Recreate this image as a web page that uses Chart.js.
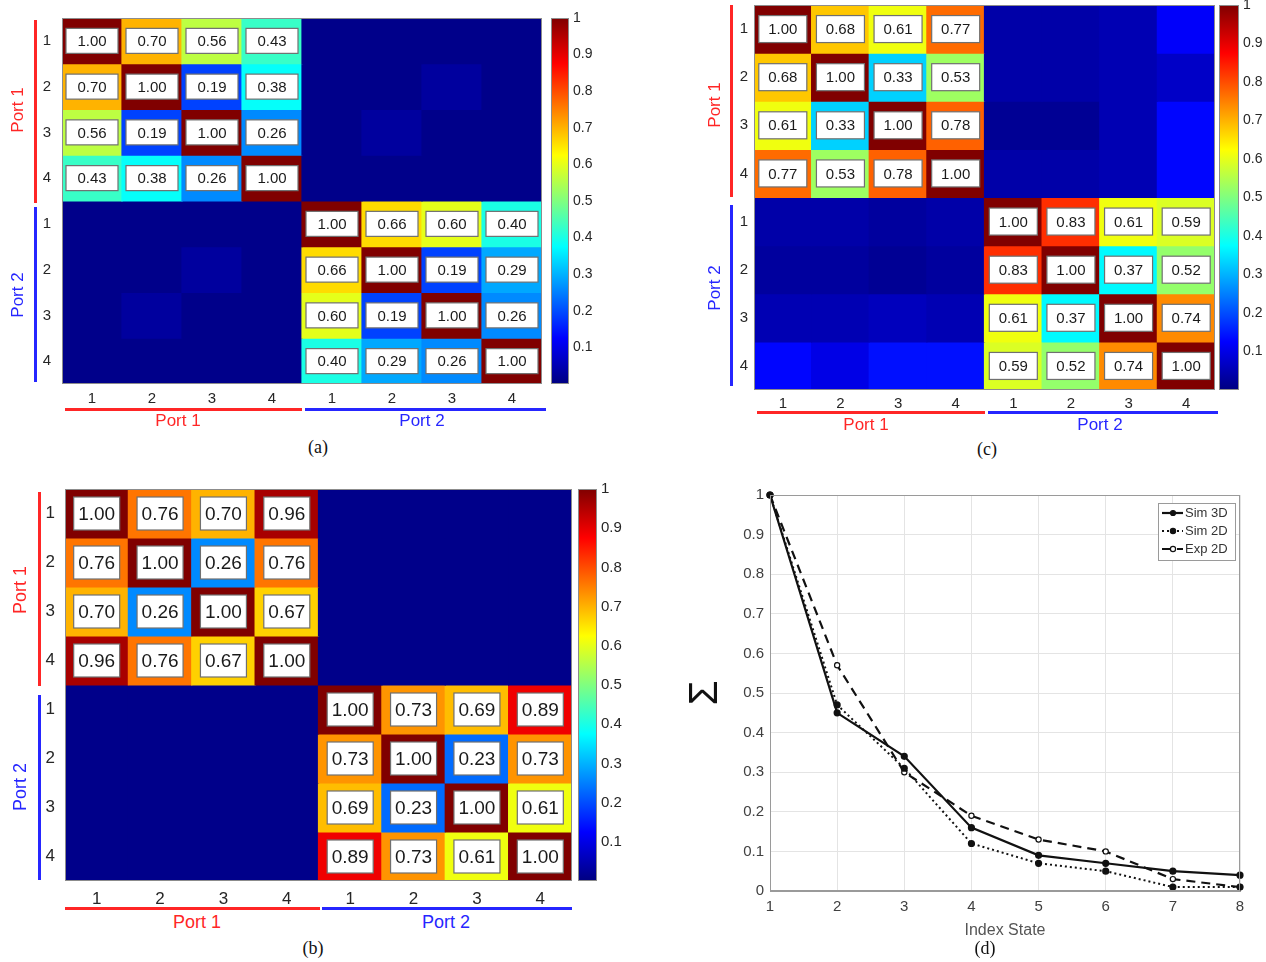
<!DOCTYPE html>
<html>
<head>
<meta charset="utf-8">
<script src="https://cdn.jsdelivr.net/npm/chart.js@4/dist/chart.umd.min.js"></script>
<style>
  body { margin: 0; background: #fff; }
  #page { position: relative; width: 1266px; height: 962px; overflow: hidden; background: #fff;
          font-family: Arial, "Liberation Sans", Helvetica, sans-serif; }
  canvas { position: absolute; }
  .cap { position: absolute; font-family: "Liberation Serif", "Times New Roman", serif; font-size: 18px; color: #111;
         transform: translate(-50%, -50%); }
  .port { position: absolute; font-size: 17px; white-space: nowrap; transform: translate(-50%, -50%); }
  .port.v { transform: translate(-50%, -50%) rotate(-90deg); }
  .bar { position: absolute; }
</style>
</head>
<body>
<div id="page">
  <canvas id="heatA" width="548" height="412" style="left:0;top:0"></canvas>
  <canvas id="barA" width="70" height="412" style="left:540px;top:0"></canvas>
  <canvas id="heatB" width="580" height="440" style="left:0;top:470px"></canvas>
  <canvas id="barB" width="66" height="440" style="left:570px;top:470px"></canvas>
  <canvas id="heatC" width="530" height="412" style="left:690px;top:0"></canvas>
  <canvas id="barC" width="56" height="412" style="left:1210px;top:0"></canvas>
  <canvas id="lineD" width="584" height="460" style="left:682px;top:480px"></canvas>
</div>
<script>
// tick labels
const portTicks = ['1', '2', '3', '4', '1', '2', '3', '4'];
const rowCenters = [0.5, 1.5, 2.5, 3.5, 4.5, 5.5, 6.5, 7.5];
const colorbarTicks = [0.1, 0.2, 0.3, 0.4, 0.5, 0.6, 0.7, 0.8, 0.9, 1];
const indexState = ['1', '2', '3', '4', '5', '6', '7', '8'];

// (a) correlation matrix
const matrixA = [
  [1.00, 0.70, 0.56, 0.43, 0.01, 0.01, 0.01, 0.01],
  [0.70, 1.00, 0.19, 0.38, 0.01, 0.01, 0.03, 0.01],
  [0.56, 0.19, 1.00, 0.26, 0.01, 0.03, 0.01, 0.01],
  [0.43, 0.38, 0.26, 1.00, 0.01, 0.01, 0.01, 0.01],
  [0.01, 0.01, 0.01, 0.01, 1.00, 0.66, 0.60, 0.40],
  [0.01, 0.01, 0.03, 0.01, 0.66, 1.00, 0.19, 0.29],
  [0.01, 0.03, 0.01, 0.01, 0.60, 0.19, 1.00, 0.26],
  [0.01, 0.01, 0.01, 0.01, 0.40, 0.29, 0.26, 1.00]
];
// (b)
const matrixB = [
  [1.00, 0.76, 0.70, 0.96, 0.01, 0.01, 0.01, 0.01],
  [0.76, 1.00, 0.26, 0.76, 0.01, 0.01, 0.01, 0.01],
  [0.70, 0.26, 1.00, 0.67, 0.01, 0.01, 0.01, 0.01],
  [0.96, 0.76, 0.67, 1.00, 0.01, 0.01, 0.01, 0.01],
  [0.01, 0.01, 0.01, 0.01, 1.00, 0.73, 0.69, 0.89],
  [0.01, 0.01, 0.01, 0.01, 0.73, 1.00, 0.23, 0.73],
  [0.01, 0.01, 0.01, 0.01, 0.69, 0.23, 1.00, 0.61],
  [0.01, 0.01, 0.01, 0.01, 0.89, 0.73, 0.61, 1.00]
];
// (c)
const matrixC = [
  [1.00, 0.68, 0.61, 0.77, 0.04, 0.04, 0.05, 0.12],
  [0.68, 1.00, 0.33, 0.53, 0.04, 0.04, 0.05, 0.07],
  [0.61, 0.33, 1.00, 0.78, 0.02, 0.02, 0.05, 0.13],
  [0.77, 0.53, 0.78, 1.00, 0.04, 0.04, 0.05, 0.13],
  [0.04, 0.04, 0.03, 0.04, 1.00, 0.83, 0.61, 0.59],
  [0.03, 0.03, 0.02, 0.03, 0.83, 1.00, 0.37, 0.52],
  [0.05, 0.05, 0.06, 0.05, 0.61, 0.37, 1.00, 0.74],
  [0.13, 0.10, 0.14, 0.14, 0.59, 0.52, 0.74, 1.00]
];

// (d) series
const sim3D = [1.00, 0.45, 0.34, 0.16, 0.09, 0.07, 0.05, 0.04];
const sim2D = [1.00, 0.47, 0.31, 0.12, 0.07, 0.05, 0.01, 0.01];
const exp2D = [1.00, 0.57, 0.30, 0.19, 0.13, 0.10, 0.03, 0.01];

Chart.defaults.font.family = 'Arial, "Liberation Sans", Helvetica, sans-serif';
Chart.defaults.color = '#262626';

// matlab jet colormap
function jet(v) {
  const c = t => Math.max(0, Math.min(1, t));
  const r = c(1.5 - Math.abs(4 * v - 3));
  const g = c(1.5 - Math.abs(4 * v - 2));
  const b = c(1.5 - Math.abs(4 * v - 1));
  return 'rgb(' + Math.round(r * 255) + ',' + Math.round(g * 255) + ',' + Math.round(b * 255) + ')';
}

// keep the chart area where the layout padding puts it
function noPad(a) {
  a.paddingTop = 0; a.paddingBottom = 0; a.paddingLeft = 0; a.paddingRight = 0;
}

function makeCellLabels(matrix, box) {
  return {
    id: 'cellLabels',
    afterDatasetsDraw(chart) {
      const { ctx, scales: { x, y }, chartArea } = chart;
      ctx.save();
      for (let r = 0; r < matrix.length; r++) {
        for (let c = 0; c < matrix[r].length; c++) {
          if ((r < 4) !== (c < 4)) continue;
          const cx = x.getPixelForValue(c);
          const cy = y.getPixelForValue(r + 0.5);
          ctx.fillStyle = '#fff';
          ctx.fillRect(cx - box.w / 2, cy - box.h / 2, box.w, box.h);
          ctx.strokeStyle = '#707070';
          ctx.lineWidth = 1.2;
          ctx.strokeRect(cx - box.w / 2, cy - box.h / 2, box.w, box.h);
          ctx.fillStyle = '#1a1a1a';
          ctx.font = box.font + 'px Arial, "Liberation Sans", sans-serif';
          ctx.textAlign = 'center';
          ctx.textBaseline = 'middle';
          ctx.fillText(matrix[r][c].toFixed(2), cx, cy + 1);
        }
      }
      ctx.strokeStyle = '#8c8c8c';
      ctx.lineWidth = 1;
      ctx.strokeRect(chartArea.left + 0.5, chartArea.top + 0.5, chartArea.width - 1, chartArea.height - 1);
      ctx.restore();
    }
  };
}

function heatmap(id, matrix, o) {
  new Chart(document.getElementById(id), {
    type: 'bar',
    data: {
      labels: portTicks,
      datasets: matrix.map((row, r) => ({
        data: row.map(() => [r, r + 1]),
        backgroundColor: row.map(jet),
        grouped: false,
        barPercentage: 1,
        categoryPercentage: 1,
        borderWidth: 0,
        inflateAmount: 0.6
      }))
    },
    options: {
      responsive: false,
      animation: false,
      layout: { padding: { top: o.top, right: o.right, left: 0, bottom: 0 } },
      plugins: { legend: { display: false }, tooltip: { enabled: false } },
      scales: {
        x: {
          grid: { display: false, drawTicks: false },
          border: { display: false },
          ticks: { padding: o.xPad, font: { size: o.tick }, maxRotation: 0, autoSkip: false },
          afterFit: a => { a.height = o.xh; noPad(a); }
        },
        y: {
          min: 0, max: 8, reverse: true,
          grid: { display: false, drawTicks: false },
          border: { display: false },
          afterBuildTicks: a => { a.ticks = rowCenters.map(v => ({ value: v })); },
          ticks: { padding: o.yPad, font: { size: o.tick }, callback: (v, i) => portTicks[i] },
          afterFit: a => { a.width = o.yw; noPad(a); }
        }
      }
    },
    plugins: [makeCellLabels(matrix, o.box)]
  });
}

function colorbar(id, o) {
  new Chart(document.getElementById(id), {
    type: 'bar',
    data: {
      labels: [''],
      datasets: [{
        data: [[0, 1]],
        backgroundColor: ctx => {
          const chart = ctx.chart;
          if (!chart.chartArea || !chart.scales.y) return jet(0.5);
          const y = chart.scales.y;
          const g = chart.ctx.createLinearGradient(0, y.getPixelForValue(0), 0, y.getPixelForValue(1));
          [0, 0.125, 0.375, 0.625, 0.875, 1].forEach(s => g.addColorStop(s, jet(s)));
          return g;
        },
        barPercentage: 1,
        categoryPercentage: 1,
        borderWidth: 0
      }]
    },
    options: {
      responsive: false,
      animation: false,
      layout: { padding: { top: o.top, bottom: o.bottom, left: o.left, right: 0 } },
      plugins: { legend: { display: false }, tooltip: { enabled: false } },
      scales: {
        x: { display: false },
        y: {
          position: 'right', min: 0, max: 1,
          grid: { display: false, drawTicks: false },
          border: { display: false },
          afterBuildTicks: a => { a.ticks = colorbarTicks.map(v => ({ value: v })); },
          ticks: { padding: 4, font: { size: o.tick }, callback: v => v === 1 ? '1' : v.toFixed(1) },
          afterFit: a => { a.width = o.yw; noPad(a); }
        }
      }
    },
    plugins: [{
      id: 'cbFrame',
      afterDraw(chart) {
        const { ctx, chartArea: a } = chart;
        ctx.save();
        ctx.strokeStyle = '#8c8c8c';
        ctx.lineWidth = 1;
        ctx.strokeRect(a.left + 0.5, a.top + 0.5, a.width - 1, a.height - 1);
        ctx.restore();
      }
    }]
  });
}

heatmap('heatA', matrixA, { top: 18, right: 6, xh: 28, yw: 62, xPad: 6, yPad: 11, tick: 15, box: { w: 52, h: 25, font: 15 } });
colorbar('barA', { top: 18, bottom: 28, left: 11, yw: 41, tick: 14 });
heatmap('heatB', matrixB, { top: 19, right: 8, xh: 29, yw: 65, xPad: 8, yPad: 10, tick: 17, box: { w: 46, h: 33, font: 19 } });
colorbar('barB', { top: 19, bottom: 29, left: 8, yw: 39, tick: 15 });
heatmap('heatC', matrixC, { top: 5, right: 5, xh: 22, yw: 64, xPad: 5, yPad: 6, tick: 15, box: { w: 48, h: 27, font: 15 } });
colorbar('barC', { top: 5, bottom: 22, left: 9, yw: 27, tick: 14 });

// legend drawn inside the plot, top right
const legendBox = {
  id: 'legendBox',
  afterDraw(chart) {
    const { ctx, chartArea: a } = chart;
    const w = 77, h = 57;
    const x0 = a.right - w - 5, y0 = a.top + 8;
    ctx.save();
    ctx.fillStyle = '#fff';
    ctx.fillRect(x0, y0, w, h);
    ctx.strokeStyle = '#9a9a9a';
    ctx.lineWidth = 1;
    ctx.strokeRect(x0 + 0.5, y0 + 0.5, w, h);
    chart.data.datasets.forEach((ds, i) => {
      const yy = y0 + 10 + i * 18;
      ctx.strokeStyle = ds.borderColor;
      ctx.lineWidth = ds.borderWidth;
      ctx.setLineDash(ds.borderDash || []);
      ctx.beginPath();
      ctx.moveTo(x0 + 4, yy);
      ctx.lineTo(x0 + 25, yy);
      ctx.stroke();
      ctx.setLineDash([]);
      ctx.beginPath();
      ctx.arc(x0 + 15, yy, ds.pointRadius, 0, Math.PI * 2);
      ctx.fillStyle = ds.pointBackgroundColor;
      ctx.fill();
      ctx.lineWidth = 1.2;
      ctx.strokeStyle = ds.borderColor;
      ctx.stroke();
      ctx.fillStyle = '#333';
      ctx.font = '13px Arial, "Liberation Sans", sans-serif';
      ctx.textAlign = 'left';
      ctx.textBaseline = 'middle';
      ctx.fillText(ds.label, x0 + 27, yy);
    });
    ctx.strokeStyle = '#9a9a9a';
    ctx.lineWidth = 1;
    ctx.strokeRect(a.left + 0.5, a.top + 0.5, a.width - 1, a.height - 1);
    ctx.restore();
  }
};

new Chart(document.getElementById('lineD'), {
  type: 'line',
  data: {
    labels: indexState,
    datasets: [
      { label: 'Sim 3D', data: sim3D, borderColor: '#111', borderWidth: 2.2, pointRadius: 2.5,
        pointBackgroundColor: '#111', pointBorderColor: '#111', tension: 0, clip: 8 },
      { label: 'Sim 2D', data: sim2D, borderColor: '#111', borderWidth: 2, borderDash: [2, 3], pointRadius: 2.6,
        pointBackgroundColor: '#111', pointBorderColor: '#111', tension: 0, clip: 8 },
      { label: 'Exp 2D', data: exp2D, borderColor: '#111', borderWidth: 2.2, borderDash: [9, 6], pointRadius: 2.6,
        pointBackgroundColor: '#fff', pointBorderColor: '#111', pointBorderWidth: 1.2, tension: 0, clip: 8 }
    ]
  },
  options: {
    responsive: false,
    animation: false,
    layout: { padding: { top: 15, right: 26, left: 0, bottom: 0 } },
    plugins: { legend: { display: false }, tooltip: { enabled: false } },
    scales: {
      x: {
        grid: { color: '#e4e4e4', drawTicks: false },
        border: { color: '#9a9a9a' },
        ticks: { color: '#404040', font: { size: 15 }, padding: 7, maxRotation: 0 },
        title: { display: true, text: 'Index State', color: '#555', font: { size: 16 }, padding: { top: 1, bottom: 0 } },
        afterFit: a => { a.height = 49; noPad(a); }
      },
      y: {
        min: 0, max: 1,
        grid: { color: '#e4e4e4', drawTicks: false },
        border: { color: '#9a9a9a' },
        ticks: { stepSize: 0.1, color: '#404040', font: { size: 15 }, padding: 6,
                 callback: v => String(Number(v.toFixed(1))) },
        title: { display: true, text: 'Σ', color: '#111', font: { size: 40 }, padding: 0 },
        afterFit: a => { a.width = 88; noPad(a); }
      }
    }
  },
  plugins: [legendBox]
});

// port brackets, labels and captions
const page = document.getElementById('page');
function bar(x1, y1, x2, y2, color) {
  const d = document.createElement('div');
  d.className = 'bar';
  d.style.left = x1 + 'px'; d.style.top = y1 + 'px';
  d.style.width = (x2 - x1) + 'px'; d.style.height = (y2 - y1) + 'px';
  d.style.background = color;
  page.appendChild(d);
}
function text(cls, str, x, y, color, size) {
  const d = document.createElement('div');
  d.className = cls;
  d.textContent = str;
  d.style.left = x + 'px'; d.style.top = y + 'px';
  if (color) d.style.color = color;
  if (size) d.style.fontSize = size + 'px';
  page.appendChild(d);
}
const RED = '#ff2626', BLUE = '#2626ff';

// (a)
bar(65, 408, 302, 411, RED); bar(305, 408, 546, 411, BLUE);
bar(34, 20, 37, 203, RED); bar(34, 207, 37, 382, BLUE);
text('port', 'Port 1', 178, 421, RED, 17); text('port', 'Port 2', 422, 421, BLUE, 17);
text('port v', 'Port 1', 18, 110, RED, 17); text('port v', 'Port 2', 18, 295, BLUE, 17);
text('cap', '(a)', 318, 447);
// (b)
bar(65, 907, 320, 910, RED); bar(322, 907, 572, 910, BLUE);
bar(38, 492, 41, 686, RED); bar(38, 695, 41, 880, BLUE);
text('port', 'Port 1', 197, 922, RED, 18); text('port', 'Port 2', 446, 922, BLUE, 18);
text('port v', 'Port 1', 20, 590, RED, 18); text('port v', 'Port 2', 20, 787, BLUE, 18);
text('cap', '(b)', 313, 948);
// (c)
bar(757, 411, 985, 414, RED); bar(988, 411, 1218, 414, BLUE);
bar(730, 5, 733, 197, RED); bar(730, 205, 733, 386, BLUE);
text('port', 'Port 1', 866, 425, RED, 17); text('port', 'Port 2', 1100, 425, BLUE, 17);
text('port v', 'Port 1', 715, 105, RED, 17); text('port v', 'Port 2', 715, 288, BLUE, 17);
text('cap', '(c)', 987, 449);
// (d)
text('cap', '(d)', 985, 948);
</script>
</body>
</html>
